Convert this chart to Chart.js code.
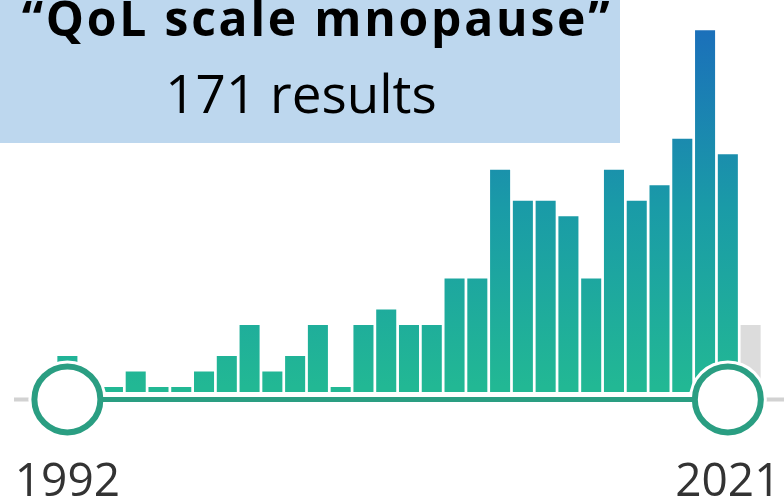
<!DOCTYPE html>
<html>
<head>
<meta charset="utf-8">
<script src="https://cdn.jsdelivr.net/npm/chart.js@4.4.0/dist/chart.umd.min.js"></script>
<style>
    html, body { margin: 0; padding: 0; background: #fff; }
    #quadro { position: relative; width: 784px; height: 500px; overflow: hidden; }
    #grafico { position: absolute; left: 0; top: 0; }
    #caixa { position: absolute; left: 0; top: 0; width: 620px; height: 143px; background: #bdd7ee; }
    .linha { position: absolute; left: 0; width: 620px; text-align: center; color: #000; white-space: nowrap; }
    #busca { top: -6px; font: 700 48px/48px "Open Sans", sans-serif; letter-spacing: 2.8px; margin-left: 7px; }
    #total { top: 66px; font: 400 53px/53px "Open Sans", sans-serif; margin-left: -9px; }
</style>
</head>
<body>
<div id="quadro">
    <canvas id="grafico" width="784" height="500"></canvas>
    <div id="caixa">
        <div class="linha" id="busca">“QoL scale mnopause”</div>
        <div class="linha" id="total">171 results</div>
    </div>
</div>
<script>
/* DADOS */

const anos = ['1992', '1993', '1994', '1995', '1996', '1997', '1998', '1999', '2000', '2001',
    '2002', '2003', '2004', '2005', '2006', '2007', '2008', '2009', '2010', '2011',
    '2012', '2013', '2014', '2015', '2016', '2017', '2018', '2019', '2020', '2021', '2022'];
const resultados = [2, 0, 0, 1, 0, 0, 1, 2, 4, 1,
    2, 4, 0, 4, 5, 4, 4, 7, 7, 14,
    12, 12, 11, 7, 14, 12, 13, 16, 23, 15, 4];
const rotulos = ['1992', '2021'];
const inicioFaixa = '1992';
const fimFaixa = '2021';

/* ESTILO */

const nivelTrilho = -0.8;
const corTrilho = '#2a9e82';

function corBarra(contexto) {
    let chart = contexto.chart;
    if (anos[contexto.dataIndex] > fimFaixa) return '#dcdcdc';
    if (!chart.chartArea) return '#22b593';
    let y = chart.scales.y;
    let grad = chart.ctx.createLinearGradient(0, y.getPixelForValue(0), 0, y.getPixelForValue(23));
    grad.addColorStop(0, '#22b894');
    grad.addColorStop(0.5, '#1a9ba7');
    grad.addColorStop(1, '#1b70ba');
    return grad;
}

const pontosFaixa = anos.map(a => (a === inicioFaixa || a === fimFaixa) ? nivelTrilho : null);

const trilhoCinza = {
    id: 'trilhoCinza',
    beforeDatasetsDraw(chart) {
        const { ctx, chartArea, scales } = chart;
        let y = scales.y.getPixelForValue(nivelTrilho);
        ctx.save();
        ctx.strokeStyle = '#d2d2d2';
        ctx.lineWidth = 4;
        ctx.beginPath();
        ctx.moveTo(chartArea.left - 42, y);
        ctx.lineTo(chart.width, y);
        ctx.stroke();
        ctx.restore();
    }
};

const grafico = document.querySelector('#grafico');

new Chart(grafico, {
    type: 'bar',
    data: {
        labels: anos,
        datasets: [{
            type: 'line',
            data: pontosFaixa,
            spanGaps: true,
            borderColor: corTrilho,
            borderWidth: 5,
            pointRadius: 33,
            pointBorderWidth: 6,
            pointBackgroundColor: '#fff',
            pointBorderColor: corTrilho,
            clip: false,
            order: 0
        }, {
            type: 'line',
            data: pontosFaixa,
            showLine: false,
            pointRadius: 39,
            pointBorderWidth: 0,
            pointBackgroundColor: '#fff',
            clip: false,
            order: 1
        }, {
            data: resultados,
            base: -0.33,
            backgroundColor: corBarra,
            categoryPercentage: 1,
            barPercentage: 0.88,
            order: 2
        }]
    },
    options: {
        responsive: false,
        animation: false,
        layout: { autoPadding: false, padding: { left: 56, right: 22, top: 7, bottom: 0 } },
        plugins: {
            legend: { display: false },
            tooltip: { enabled: false }
        },
        scales: {
            x: {
                offset: true,
                grid: { display: false, drawTicks: false },
                border: { display: false },
                ticks: {
                    autoSkip: false,
                    maxRotation: 0,
                    padding: 22,
                    color: '#333',
                    font: { family: 'Open Sans', size: 46 },
                    callback: (valor, i) => rotulos.includes(anos[i]) ? anos[i] : ''
                },
                afterFit: (escala) => {
                    escala.height = 66.5;
                    escala.paddingLeft = 0;
                    escala.paddingRight = 0;
                }
            },
            y: {
                display: false,
                min: -3,
                max: 24.5
            }
        }
    },
    plugins: [trilhoCinza]
});
</script>
</body>
</html>
